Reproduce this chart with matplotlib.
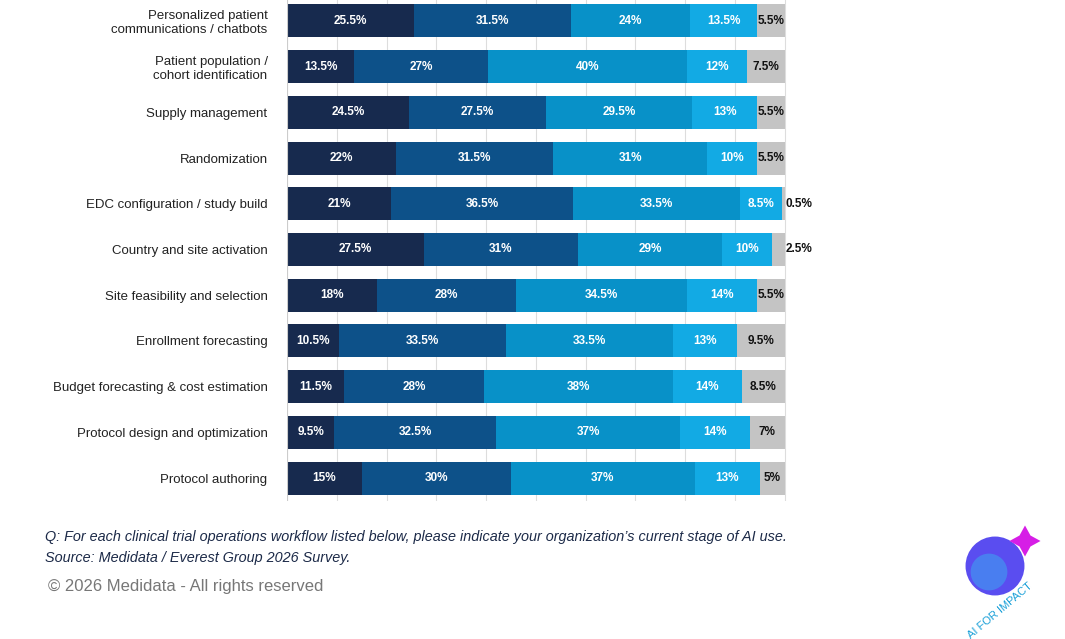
import matplotlib
matplotlib.use("Agg")
import matplotlib.pyplot as plt
import numpy as np

plt.rcParams['font.family'] = ['Liberation Sans', 'DejaVu Sans']

categories = ["Personalized patient\ncommunications / chatbots", "Patient population /\ncohort identification",
              "Supply management", "Randomization", "EDC configuration / study build",
              "Country and site activation", "Site feasibility and selection", "Enrollment forecasting",
              "Budget forecasting & cost estimation", "Protocol design and optimization", "Protocol authoring"]
s1 = [25.5, 13.5, 24.5, 22, 21, 27.5, 18, 10.5, 11.5, 9.5, 15]
s2 = [31.5, 27, 27.5, 31.5, 36.5, 31, 28, 33.5, 28, 32.5, 30]
s3 = [24, 40, 29.5, 31, 33.5, 29, 34.5, 33.5, 38, 37, 37]
s4 = [13.5, 12, 13, 10, 8.5, 10, 14, 13, 14, 14, 13]
s5 = [5.5, 7.5, 5.5, 5.5, 0.5, 2.5, 5.5, 9.5, 8.5, 7, 5]
series = [s1, s2, s3, s4, s5]
colors = ["#172a4e", "#0d5189", "#0891c8", "#12aae4", "#c4c4c4"]

fig = plt.figure(figsize=(10.65, 6.39), dpi=100)
ax = fig.add_axes([287/1065, 138/639, 500/1065, 503/639])
n = len(categories)
y = np.arange(n)
left = np.zeros(n)
for k, (vals, c) in enumerate(zip(series, colors)):
    vals = np.array(vals, float)
    ax.barh(y, vals, left=left, height=0.72, color=c, edgecolor="none")
    for i, v in enumerate(vals):
        if k < 4:
            ax.text(left[i] + v / 2, y[i], f"{v:g}%", ha="center", va="center",
                    color="white", fontsize=8.5, fontweight="bold", family="DejaVu Sans" if False else None)
        else:
            xx = left[i] + v / 2 if v >= 3 else left[i] + v + 0.2
            ax.text(xx, y[i], f"{v:g}%", ha="center" if v >= 3 else "left", va="center",
                    color="#111111", fontsize=8.5, fontweight="bold")
    left += vals
ax.set_xlim(0, 100.5)
ax.set_ylim(n - 0.5, -0.5)
ax.set_xticks(np.arange(0, 101, 10))
ax.xaxis.grid(True, color="#dddddd", lw=0.8)
ax.set_axisbelow(True)
ax.tick_params(axis="x", length=0, labelbottom=False)
ax.tick_params(axis="y", length=0, pad=14)
ax.set_yticks(y)
ax.set_yticklabels(categories, fontsize=9.5, color="#222222")
for s in ax.spines.values():
    s.set_visible(False)
ax.axvline(0, color="#cccccc", lw=0.8)

fig.text(45/1065, 1 - 537/639, "Q: For each clinical trial operations workflow listed below, please indicate your organization\u2019s current stage of AI use.",
         fontsize=10.4, style="italic", color="#1c2a48", va="center")
fig.text(45/1065, 1 - 558/639, "Source: Medidata / Everest Group 2026 Survey.",
         fontsize=10.4, style="italic", color="#1c2a48", va="center")
fig.text(48/1065, 1 - 587/639, "\u00a9 2026 Medidata - All rights reserved",
         fontsize=12, color="#777777", va="center")

# logo
lax = fig.add_axes([955/1065, 10/639, 100/1065, 120/639])
lax.set_xlim(0, 100); lax.set_ylim(0, 120); lax.axis("off")
lax.scatter([40], [63], s=1800, c="#5a4df0", edgecolors="none")
lax.scatter([34], [57], s=700, c="#3fa0f0", edgecolors="none", alpha=0.6)
lax.scatter([70], [88], s=500, marker=(4, 1, 0), c="#d61ee6", edgecolors="none")
lax.text(45, 18, "AI FOR IMPACT", fontsize=8, color="#1aa0d8", rotation=40, ha="center", va="center")

fig.savefig("out.png", dpi=100)
